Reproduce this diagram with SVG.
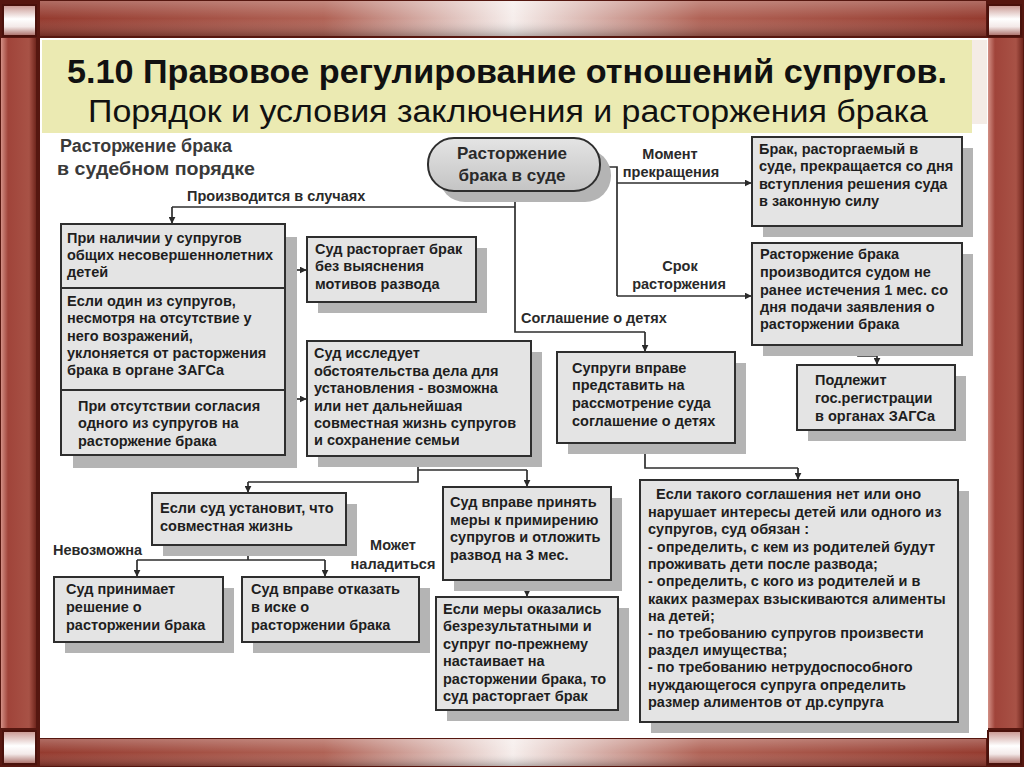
<svg xmlns="http://www.w3.org/2000/svg" width="1024" height="767" viewBox="0 0 1024 767">
<defs>
<linearGradient id="hbar" x1="0" y1="0" x2="1" y2="0">
<stop offset="0" stop-color="#953b2f"/>
<stop offset="0.3" stop-color="#b06255"/>
<stop offset="0.5" stop-color="#f6eeec"/>
<stop offset="0.7" stop-color="#b06255"/>
<stop offset="1" stop-color="#953b2f"/>
</linearGradient>
<linearGradient id="hshade" x1="0" y1="0" x2="0" y2="1">
<stop offset="0" stop-color="#ffffff" stop-opacity="0.25"/>
<stop offset="0.5" stop-color="#ffffff" stop-opacity="0"/>
<stop offset="1" stop-color="#000000" stop-opacity="0.25"/>
</linearGradient>
<linearGradient id="vbar" x1="0" y1="0" x2="1" y2="0">
<stop offset="0" stop-color="#d39086"/>
<stop offset="0.2" stop-color="#a0443a"/>
<stop offset="0.8" stop-color="#a85246"/>
<stop offset="1" stop-color="#70261d"/>
</linearGradient>
<linearGradient id="corner" x1="0" y1="0" x2="0" y2="1">
<stop offset="0" stop-color="#c89690"/>
<stop offset="0.45" stop-color="#ffffff"/>
<stop offset="0.7" stop-color="#f3e9e8"/>
<stop offset="1" stop-color="#a86a63"/>
</linearGradient>
<linearGradient id="pillg" x1="0" y1="0" x2="0" y2="1">
<stop offset="0" stop-color="#e4e4e4"/>
<stop offset="1" stop-color="#c4c4c4"/>
</linearGradient>
<marker id="ah" viewBox="0 0 10 10" refX="9" refY="5" markerWidth="7" markerHeight="7" markerUnits="userSpaceOnUse" orient="auto">
<path d="M0,0 L10,5 L0,10 z" fill="#2a2a2a"/>
</marker>
<style>
.box{fill:#e4e4e4;stroke:#2e2e2e;stroke-width:2}
.sh{fill:#b4b4b4}
.t{font-family:"Liberation Sans",Arial,sans-serif;font-weight:bold;font-size:14.5px;fill:#1e1e1e}
.lb{font-family:"Liberation Sans",Arial,sans-serif;font-weight:bold;font-size:14.5px;fill:#2a2a2a}
.hd{font-family:"Liberation Sans",Arial,sans-serif;font-weight:bold;font-size:18px;fill:#3a3a3a}
.pt{font-family:"Liberation Sans",Arial,sans-serif;font-weight:bold;font-size:17px;fill:#2a2a2a}
.ln{stroke:#2e2e2e;stroke-width:1.7;fill:none}
.ar{stroke:#2e2e2e;stroke-width:1.7;fill:none;marker-end:url(#ah)}
.cs{fill:url(#corner);stroke:#4a120c;stroke-width:2}
</style>
</defs>

<g id="frame">
<rect x="0" y="0" width="1024" height="767" fill="#561710"/>
<rect x="40" y="38" width="948" height="700" fill="#ffffff"/>
<rect x="42" y="40" width="930" height="93" fill="#ebeab2"/>
<rect x="972" y="40" width="15" height="84" fill="#f4ece6"/>
<rect x="40" y="1" width="946" height="35" fill="url(#hbar)"/>
<rect x="40" y="1" width="946" height="35" fill="url(#hshade)"/>
<rect x="40" y="739" width="946" height="27" fill="url(#hbar)"/>
<rect x="40" y="739" width="946" height="27" fill="url(#hshade)"/>
<rect x="1" y="38" width="35" height="690" fill="url(#vbar)"/>
<rect x="988" y="38" width="35" height="690" fill="url(#vbar)"/>
<rect x="3" y="5" width="33" height="31" class="cs"/>
<rect x="988" y="5" width="33" height="31" class="cs"/>
<rect x="3" y="731" width="33" height="33" class="cs"/>
<rect x="988" y="731" width="33" height="33" class="cs"/>
</g>

<g id="title">
<text x="507" y="83" text-anchor="middle" font-family="'Liberation Sans',Arial,sans-serif" font-weight="bold" font-size="34" fill="#111" textLength="880" lengthAdjust="spacingAndGlyphs">5.10 Правовое регулирование отношений супругов.</text>
<text x="508" y="122" text-anchor="middle" font-family="'Liberation Sans',Arial,sans-serif" font-size="31" fill="#111" textLength="840" lengthAdjust="spacingAndGlyphs">Порядок и условия заключения и расторжения брака</text>
</g>

<g id="heading">
<text class="hd" x="60" y="152" textLength="172" lengthAdjust="spacingAndGlyphs">Расторжение брака</text>
<text class="hd" x="57" y="175" textLength="198" lengthAdjust="spacingAndGlyphs">в судебном порядке</text>
</g>

<g id="connectors">
<path class="ln" d="M600,167 H617 V296"/>
<path class="ar" d="M617,183 H751"/>
<path class="ar" d="M617,296 H751"/>
<path class="ln" d="M515,192 V332 H645"/>
<path class="ar" d="M645,332 V351"/>
<path class="ln" d="M515,207 H172"/>
<path class="ar" d="M172,207 V223"/>
<path class="ln" d="M285,257 H296 V340 H285"/>
<path class="ar" d="M296,270 H306"/>
<path class="ln" d="M285,392 H296 V424 H285"/>
<path class="ar" d="M296,399 H306"/>
<path class="ln" d="M858,345 V356 H877"/>
<path class="ar" d="M877,356 V364"/>
<path class="ln" d="M418,456 V482 H248"/>
<path class="ar" d="M248,482 V492"/>
<path class="ln" d="M418,470 H527"/>
<path class="ar" d="M527,470 V486"/>
<path class="ar" d="M527,580 V596"/>
<path class="ln" d="M645,443 V468 H798"/>
<path class="ar" d="M798,468 V479"/>
<path class="ln" d="M248,545 V560 M137,560 H325"/>
<path class="ar" d="M137,560 V576"/>
<path class="ar" d="M325,560 V576"/>
<text class="lb" x="187" y="201">Производится в случаях</text>
<text class="lb" x="670" y="159" text-anchor="middle">Момент</text>
<text class="lb" x="671" y="177" text-anchor="middle">прекращения</text>
<text class="lb" x="680" y="271" text-anchor="middle">Срок</text>
<text class="lb" x="679" y="289" text-anchor="middle">расторжения</text>
<text class="lb" x="521" y="323">Соглашение о детях</text>
<text class="lb" x="53" y="555">Невозможна</text>
<text class="lb" x="393" y="550" text-anchor="middle">Может</text>
<text class="lb" x="393" y="569" text-anchor="middle">наладиться</text>
</g>

<g id="n-pill">
<rect x="439" y="149" width="172" height="53" rx="26" class="sh"/>
<rect x="428" y="138" width="172" height="53" rx="26" fill="url(#pillg)" stroke="#2e2e2e" stroke-width="2"/>
<text class="pt" x="512" y="159" text-anchor="middle">Расторжение</text>
<text class="pt" x="512" y="181" text-anchor="middle">брака в суде</text>
</g>

<g id="n-moment">
<rect x="763" y="148" width="210" height="89" class="sh"/>
<rect x="752" y="137" width="210" height="89" class="box"/>
<text class="t" x="759" y="154">Брак, расторгаемый в</text>
<text class="t" x="759" y="171">суде, прекращается со дня</text>
<text class="t" x="759" y="189">вступления решения суда</text>
<text class="t" x="759" y="206">в законную силу</text>
</g>

<g id="n-srok">
<rect x="763" y="254" width="210" height="102" class="sh"/>
<rect x="752" y="243" width="210" height="102" class="box"/>
<text class="t" x="760" y="259">Расторжение брака</text>
<text class="t" x="760" y="277">производится судом не</text>
<text class="t" x="760" y="295">ранее истечения 1 мес. со</text>
<text class="t" x="760" y="312">дня подачи заявления о</text>
<text class="t" x="760" y="329">расторжении брака</text>
</g>

<g id="n-zags">
<rect x="808" y="376" width="158" height="65" class="sh"/>
<rect x="797" y="365" width="158" height="65" class="box"/>
<text class="t" x="815" y="385">Подлежит</text>
<text class="t" x="815" y="403">гос.регистрации</text>
<text class="t" x="815" y="421">в органах ЗАГСа</text>
</g>

<g id="n-cases">
<rect x="73" y="237" width="224" height="231" class="sh"/>
<rect x="61" y="224" width="224" height="231" class="box"/>
<line x1="61" y1="288" x2="285" y2="288" stroke="#2e2e2e" stroke-width="2"/>
<line x1="61" y1="390" x2="285" y2="390" stroke="#2e2e2e" stroke-width="2"/>
<text class="t" x="67" y="243">При наличии у супругов</text>
<text class="t" x="67" y="260">общих несовершеннолетних</text>
<text class="t" x="67" y="277">детей</text>
<text class="t" x="67" y="306">Если один из супругов,</text>
<text class="t" x="67" y="323">несмотря на отсутствие у</text>
<text class="t" x="67" y="341">него возражений,</text>
<text class="t" x="67" y="358">уклоняется от расторжения</text>
<text class="t" x="67" y="375">брака в органе ЗАГСа</text>
<text class="t" x="78" y="411">При отсутствии согласия</text>
<text class="t" x="78" y="428">одного из супругов на</text>
<text class="t" x="78" y="446">расторжение брака</text>
</g>

<g id="n-nomotive">
<rect x="318" y="248" width="169" height="65" class="sh"/>
<rect x="307" y="237" width="169" height="65" class="box"/>
<text class="t" x="315" y="254">Суд расторгает брак</text>
<text class="t" x="315" y="271">без выяснения</text>
<text class="t" x="315" y="289">мотивов развода</text>
</g>

<g id="n-investigate">
<rect x="318" y="352" width="224" height="115" class="sh"/>
<rect x="307" y="341" width="224" height="115" class="box"/>
<text class="t" x="314" y="358">Суд исследует</text>
<text class="t" x="314" y="376">обстоятельства дела для</text>
<text class="t" x="314" y="393">установления - возможна</text>
<text class="t" x="314" y="411">или нет дальнейшая</text>
<text class="t" x="314" y="428">совместная жизнь супругов</text>
<text class="t" x="314" y="445">и сохранение семьи</text>
</g>

<g id="n-agreement">
<rect x="568" y="363" width="178" height="91" class="sh"/>
<rect x="557" y="352" width="178" height="91" class="box"/>
<text class="t" x="572" y="373">Супруги вправе</text>
<text class="t" x="572" y="390">представить на</text>
<text class="t" x="572" y="408">рассмотрение суда</text>
<text class="t" x="572" y="426">соглашение о детях</text>
</g>

<g id="n-ifcourt">
<rect x="163" y="504" width="194" height="52" class="sh"/>
<rect x="152" y="493" width="194" height="52" class="box"/>
<text class="t" x="160" y="513">Если суд установит, что</text>
<text class="t" x="160" y="531">совместная жизнь</text>
</g>

<g id="n-decision">
<rect x="65" y="588" width="169" height="65" class="sh"/>
<rect x="54" y="577" width="169" height="65" class="box"/>
<text class="t" x="66" y="594">Суд принимает</text>
<text class="t" x="66" y="612">решение о</text>
<text class="t" x="66" y="630">расторжении брака</text>
</g>

<g id="n-refuse">
<rect x="253" y="588" width="177" height="65" class="sh"/>
<rect x="242" y="577" width="177" height="65" class="box"/>
<text class="t" x="251" y="594">Суд вправе отказать</text>
<text class="t" x="251" y="612">в иске о</text>
<text class="t" x="251" y="630">расторжении брака</text>
</g>

<g id="n-reconcile">
<rect x="454" y="498" width="168" height="93" class="sh"/>
<rect x="443" y="487" width="168" height="93" class="box"/>
<text class="t" x="450" y="507">Суд вправе принять</text>
<text class="t" x="450" y="525">меры к примирению</text>
<text class="t" x="450" y="542">супругов и отложить</text>
<text class="t" x="450" y="560">развод на 3 мес.</text>
</g>

<g id="n-fail">
<rect x="447" y="608" width="182" height="113" class="sh"/>
<rect x="436" y="597" width="182" height="113" class="box"/>
<text class="t" x="443" y="614">Если меры оказались</text>
<text class="t" x="443" y="631">безрезультатными и</text>
<text class="t" x="443" y="649">супруг по-прежнему</text>
<text class="t" x="443" y="666">настаивает на</text>
<text class="t" x="443" y="684">расторжении брака, то</text>
<text class="t" x="443" y="701">суд расторгает брак</text>
</g>

<g id="n-noagreement">
<rect x="651" y="491" width="318" height="242" class="sh"/>
<rect x="640" y="480" width="318" height="242" class="box"/>
<text class="t" x="656" y="499">Если такого соглашения нет или  оно</text>
<text class="t" x="648" y="517">нарушает интересы детей или одного из</text>
<text class="t" x="648" y="534">супругов, суд обязан :</text>
<text class="t" x="648" y="552">- определить, с кем из родителей будут</text>
<text class="t" x="648" y="569">проживать дети после развода;</text>
<text class="t" x="648" y="586">- определить, с кого из родителей и в</text>
<text class="t" x="648" y="604">каких размерах взыскиваются алименты</text>
<text class="t" x="648" y="621">на детей;</text>
<text class="t" x="648" y="638">- по требованию супругов произвести</text>
<text class="t" x="648" y="655">раздел имущества;</text>
<text class="t" x="648" y="672">- по требованию нетрудоспособного</text>
<text class="t" x="648" y="690">нуждающегося супруга определить</text>
<text class="t" x="648" y="707">размер алиментов от др.супруга</text>
</g>
</svg>
